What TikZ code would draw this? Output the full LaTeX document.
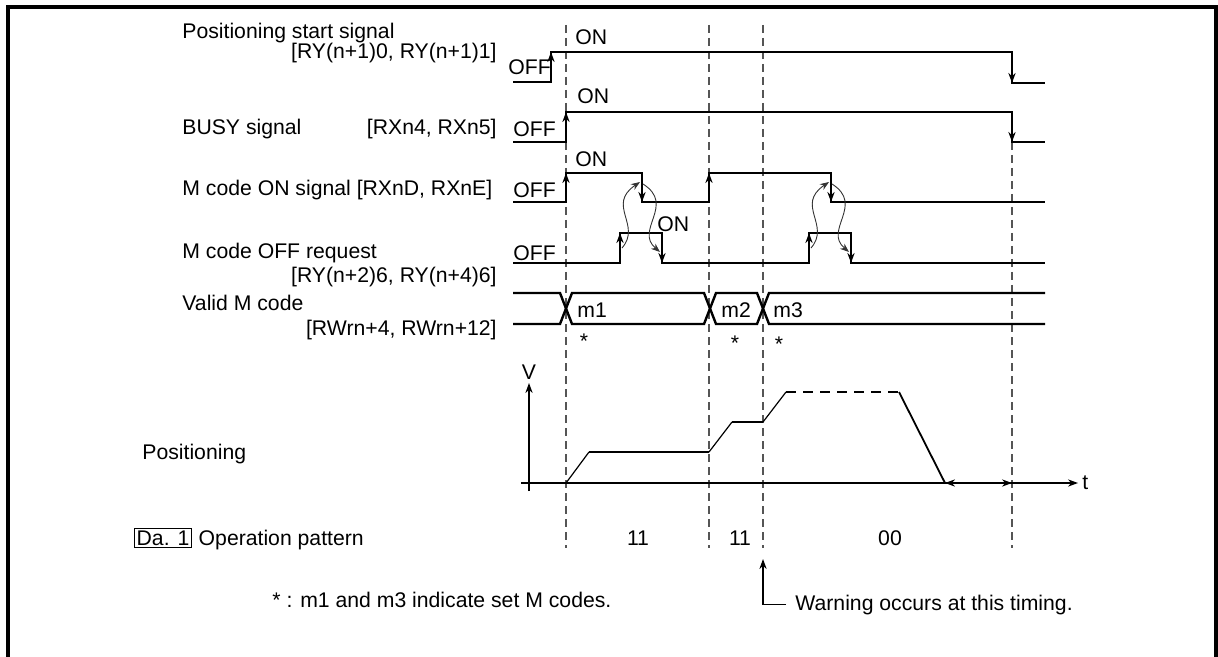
\documentclass[tikz,border=0pt]{standalone}
\usepackage{fontspec}
\setmainfont{Liberation Sans}
\usetikzlibrary{arrows.meta}
\definecolor{tdLine}{HTML}{000000}
\definecolor{tdGuide}{HTML}{555555}
\definecolor{tdHand}{HTML}{333333}

\begin{document}
\begin{tikzpicture}[
  x=0.5pt, y=-0.5pt,
  font=\fontsize{10.6}{12.5}\selectfont,
  lbl/.style={inner sep=0pt, text=tdLine},
  frame/.style={tdLine, line width=2pt},
  sig/.style={tdLine, line width=1.2pt},
  edgeArr/.style={-{Stealth[length=5pt, width=3.6pt]}, tdLine, line width=1.2pt},
  guide/.style={tdGuide, line width=0.6pt, dash pattern=on 4pt off 2.5pt},
  hand/.style={-{Stealth[length=4.5pt, width=3.4pt]}, tdHand, line width=0.45pt},
  axis/.style={tdLine, line width=0.6pt},
  axisArr/.style={-{Stealth[length=5pt, width=3.6pt]}, tdLine, line width=0.6pt},
  prof/.style={tdLine, line width=1.2pt},
  ramp/.style={tdLine, line width=0.6pt}
]

  \useasboundingbox (0,0) rectangle (1218,657);
  \draw[frame] (8,657) -- (8,7.5) -- (1215.5,7.5) -- (1215.5,657);

  % signal names
  \node[lbl, anchor=base west] (nStart) at (182,39) {Positioning start signal};
  \node[lbl, anchor=base east] (aStart) at (497,59) {[RY(n+1)0, RY(n+1)1]};
  \node[lbl, anchor=base west] (nBusy) at (182,135) {BUSY signal};
  \node[lbl, anchor=base east] (aBusy) at (497,135) {[RXn4, RXn5]};
  \node[lbl, anchor=base west] (nMon) at (182,196) {M code ON signal [RXnD, RXnE]};
  \node[lbl, anchor=base west] (nMoff) at (182,259) {M code OFF request};
  \node[lbl, anchor=base east] (aMoff) at (497,283) {[RY(n+2)6, RY(n+4)6]};
  \node[lbl, anchor=base west] (nCode) at (182,310) {Valid M code};
  \node[lbl, anchor=base east] (aCode) at (497,335) {[RWrn+4, RWrn+12]};
  \node[lbl, anchor=base west] (nPos) at (142,459) {Positioning};
  \node[draw, line width=0.6pt, inner sep=1.2pt] (da) at (163,538) {Da. 1};
  \node[lbl, anchor=base west] (nPat) at ([xshift=3pt]da.base east) {Operation pattern};

  % guides
  \draw[guide] (566,25) -- (566,548);
  \draw[guide] (709,25) -- (709,548);
  \draw[guide] (763,25) -- (763,548);
  \draw[guide] (1012,142) -- (1012,548);

  % positioning start
  \node[lbl, anchor=base west] (off1) at (508,75) {OFF};
  \node[lbl, anchor=base west] (on1) at (575,45) {ON};
  \draw[sig] (513,82) -- (551,82) -- (551,52) -- (1012,52) -- (1012,83) -- (1045,83);
  \draw[edgeArr] (551,82) -- (551,52);
  \draw[edgeArr] (1012,52) -- (1012,83);

  % BUSY
  \node[lbl, anchor=base west] (off2) at (513,137) {OFF};
  \node[lbl, anchor=base west] (on2) at (577,104) {ON};
  \draw[sig] (513,142) -- (566,142) -- (566,112) -- (1012,112) -- (1012,142) -- (1045,142);
  \draw[edgeArr] (566,142) -- (566,112);
  \draw[edgeArr] (1012,112) -- (1012,142);

  % M code ON
  \node[lbl, anchor=base west] (off3) at (513,198) {OFF};
  \node[lbl, anchor=base west] (on3) at (575,167) {ON};
  \draw[sig] (513,202) -- (566,202) -- (566,173) -- (642,173) -- (642,202) -- (709,202)
    -- (709,173) -- (831,173) -- (831,202) -- (1045,202);
  \draw[edgeArr] (566,202) -- (566,173);
  \draw[edgeArr] (642,173) -- (642,202);
  \draw[edgeArr] (709,202) -- (709,173);
  \draw[edgeArr] (831,173) -- (831,202);

  % M code OFF request
  \node[lbl, anchor=base west] (off4) at (513,261) {OFF};
  \node[lbl, anchor=base west] (on4) at (657,232) {ON};
  \draw[sig] (513,263) -- (620,263) -- (620,233) -- (662,233) -- (662,263) -- (809,263)
    -- (809,233) -- (851,233) -- (851,263) -- (1045,263);
  \draw[edgeArr] (620,263) -- (620,233);
  \draw[edgeArr] (662,233) -- (662,263);
  \draw[edgeArr] (809,263) -- (809,233);
  \draw[edgeArr] (851,233) -- (851,263);

  % handshake
  \draw[hand] (622,248) .. controls (642,225) and (606,205) .. (640,182);
  \draw[hand] (643,184) .. controls (676,205) and (634,230) .. (660,252);
  \draw[hand] (811,248) .. controls (831,225) and (795,205) .. (829,182);
  \draw[hand] (832,184) .. controls (865,205) and (823,230) .. (849,252);

  % valid M code
  \draw[sig] (513,293) -- (560,293) -- (572,324) -- (704,324) -- (716,293) -- (757,293)
    -- (769,324) -- (1045,324);
  \draw[sig] (513,324) -- (560,324) -- (572,293) -- (704,293) -- (716,324) -- (757,324)
    -- (769,293) -- (1045,293);
  \node[lbl, anchor=base west] (m1) at (577,317) {m1};
  \node[lbl, anchor=base west] (m2) at (721,317) {m2};
  \node[lbl, anchor=base west] (m3) at (773,317) {m3};
  \node[lbl] (s1) at (584,341) {*};
  \node[lbl] (s2) at (735,343) {*};
  \node[lbl] (s3) at (779,344) {*};

  % speed
  \coordinate (vBot) at (529,491);
  \coordinate (vTop) at (529,383);
  \coordinate (tL) at (521,483);
  \coordinate (tR) at (1078,483);
  \draw[axisArr] (vBot) -- (vTop);
  \draw[axisArr] (tL) -- (tR);
  \node[lbl] (vLbl) at (529,372) {V};
  \node[lbl, anchor=west] (tLbl) at (1082,483) {t};
  \draw[ramp] (566,483) -- (589,452);
  \draw[prof] (589,452) -- (709,452);
  \draw[ramp] (709,452) -- (732,422);
  \draw[prof] (732,422) -- (763,422);
  \draw[ramp] (763,422) -- (786,392);
  \draw[prof, dash pattern=on 5pt off 3.5pt] (786,392) -- (899,392);
  \draw[tdLine, line width=0.9pt] (899,392) -- (945,483);
  \draw[axis, {Stealth[length=5pt, width=3.6pt]}-{Stealth[length=5pt, width=3.6pt]}] (945,483) -- (1012,483);

  % pattern
  \node[lbl] (p1) at (638,538) {11};
  \node[lbl] (p2) at (740,538) {11};
  \node[lbl] (p3) at (890,538) {00};

  \node[lbl, anchor=base west] (note) at (272,607) {* : m1 and m3 indicate set M codes.};
  \node[lbl, anchor=base west] (warn) at (795,610) {Warning occurs at this timing.};
  \draw[axisArr] ([xshift=-4.5pt]warn.west) -| (763,559);

\end{tikzpicture}
\end{document}
